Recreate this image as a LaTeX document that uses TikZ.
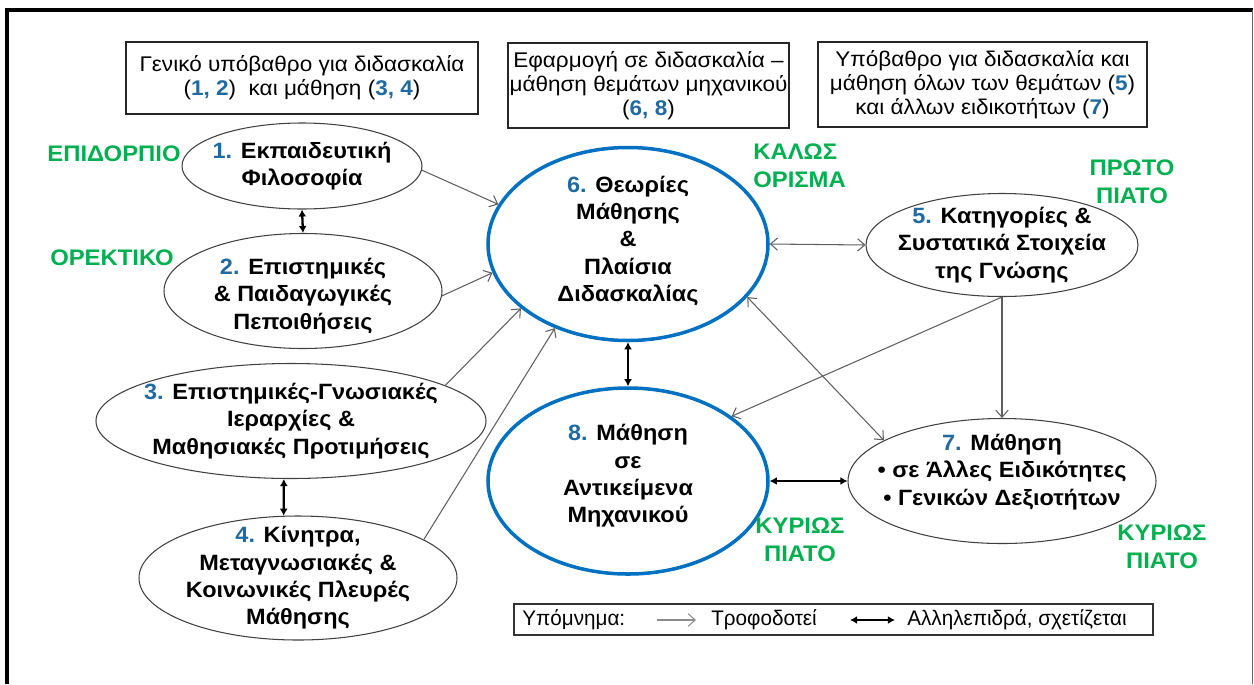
\documentclass[tikz,border=0pt]{standalone}
\usepackage{fontspec}
\setmainfont[FakeStretch=1.06]{Liberation Sans}
\newfontfamily\narrowsans[FakeStretch=0.98]{Liberation Sans}
\usetikzlibrary{shapes.geometric,arrows.meta}
\definecolor{numblue}{RGB}{31,106,160}
\definecolor{ringblue}{RGB}{0,112,192}
\definecolor{dishgreen}{RGB}{0,176,80}
\definecolor{feedgray}{RGB}{95,95,95}
\newcommand{\pix}{0.02cm} % one pixel of the reference
\newcommand{\nr}[1]{\textcolor{numblue}{#1}} % blue numbers
\tikzset{
	idea/.style={ellipse, draw=black!75, line width=0.6pt, inner sep=0pt},
	core/.style={ellipse, draw=ringblue, line width=2pt, inner sep=0pt},
	idealabel/.style={align=center, font=\bfseries\fontsize{12.6}{15.6}\selectfont},
	note/.style={rectangle, draw=black!85, line width=0.9pt, inner sep=0pt, align=center, font=\fontsize{12.1}{13.6}\selectfont},
	dish/.style={text=dishgreen, inner sep=0pt, align=center, font=\bfseries\fontsize{12.8}{15.9}\selectfont},
	feeds/.style={draw=feedgray, line width=0.6pt, -{Straight Barb[length=4pt,width=7pt]}},
	mutual/.style={draw=feedgray, line width=0.6pt, {Straight Barb[length=4pt,width=7pt]}-{Straight Barb[length=4pt,width=7pt]}},
	links/.style={draw=black, line width=1.3pt, {Latex[length=4pt,width=4.5pt]}-{Latex[length=4pt,width=4.5pt]}},
	keybox/.style={rectangle, draw=black!80, line width=0.7pt, inner sep=0pt},
	keytext/.style={inner sep=0pt, anchor=west, font=\narrowsans\fontsize{12}{14}\selectfont},
}
\begin{document}
\begin{tikzpicture}[x=0.02cm,y=-0.02cm]
	\useasboundingbox (0,0) rectangle (1254,684); % page
	\draw [line width=2.3pt] (7,684) -- (7,10) -- (1253,10); % frame left and top
	\draw [black!60,line width=0.7pt] (1252.5,10) -- (1252.5,684); % frame right
	% top boxes
	\node [note, minimum width=352*\pix, minimum height=72*\pix] (boxA) at (302,78) {Γενικό υπόβαθρο για διδασκαλία\\(\nr{\textbf{1, 2}})\ \ και μάθηση (\nr{\textbf{3, 4}})};
	\node [note, minimum width=281*\pix, minimum height=85*\pix] (boxB) at (648.5,85.5) {Εφαρμογή σε διδασκαλία –\\μάθηση θεμάτων μηχανικού\\(\nr{\textbf{6, 8}})};
	\node [note, minimum width=329*\pix, minimum height=85*\pix] (boxC) at (982.5,84.5) {Υπόβαθρο για διδασκαλία και\\μάθηση όλων των θεμάτων (\nr{\textbf{5}})\\και άλλων ειδικοτήτων (\nr{\textbf{7}})};
	% ellipses
	\node [idea, minimum width=240*\pix, minimum height=86*\pix, label={[idealabel]center:{\nr{1.} Εκπαιδευτική\\Φιλοσοφία}}] (e1) at (302,166) {};
	\node [idea, minimum width=278*\pix, minimum height=115*\pix, label={[idealabel,yshift=-5*\pix]center:{\nr{2.} Επιστημικές\\\& Παιδαγωγικές\\Πεποιθήσεις}}] (e2) at (303,291) {};
	\node [idea, minimum width=390*\pix, minimum height=115*\pix, label={[idealabel]center:{\nr{3.} Επιστημικές-Γνωσιακές\\Ιεραρχίες \&\\Μαθησιακές Προτιμήσεις}}] (e3) at (291,421) {};
	\node [idea, minimum width=318*\pix, minimum height=124*\pix, label={[idealabel]center:{\nr{4.} Κίνητρα,\\Μεταγνωσιακές \&\\Κοινωνικές Πλευρές\\Μάθησης}}] (e4) at (298,578) {};
	\node [idea, minimum width=272*\pix, minimum height=103*\pix, label={[idealabel]center:{\nr{5.} Κατηγορίες \&\\Συστατικά Στοιχεία\\της Γνώσης}}] (e5) at (1002,245) {};
	\node [core, minimum width=280*\pix, minimum height=193*\pix, label={[idealabel,yshift=3*\pix]center:{\nr{6.} Θεωρίες\\Μάθησης\\\&\\Πλαίσια\\Διδασκαλίας}}] (e6) at (628,244) {};
	\node [idea, minimum width=308*\pix, minimum height=125*\pix, label={[idealabel,yshift=9*\pix]center:{\nr{7.} Μάθηση\\• σε Άλλες Ειδικότητες\\• Γενικών Δεξιοτήτων}}] (e7) at (1002,481) {};
	\node [core, minimum width=280*\pix, minimum height=186*\pix, label={[idealabel,yshift=5*\pix]center:{\nr{8.} Μάθηση\\σε\\Αντικείμενα\\Μηχανικού}}] (e8) at (628,481) {};
	% green labels
	\node [dish] (dessert) at (114,154) {ΕΠΙΔΟΡΠΙΟ};
	\node [dish] (starter) at (112,258) {ΟΡΕΚΤΙΚΟ};
	\node [dish, anchor=west, align=left] (welcome) at (753,166) {ΚΑΛΩΣ\\ΟΡΙΣΜΑ};
	\node [dish] (firstdish) at (1132,182) {ΠΡΩΤΟ\\ΠΙΑΤΟ};
	\node [dish] (maindishA) at (800,540) {ΚΥΡΙΩΣ\\ΠΙΑΤΟ};
	\node [dish] (maindishB) at (1162,547) {ΚΥΡΙΩΣ\\ΠΙΑΤΟ};
	% connectors
	\draw [feeds] (e1.-2) -- (e6.163); % 1 feeds 6
	\draw [feeds] (e2.-2) -- (e6.192); % 2 feeds 6
	\draw [feeds] (e3.13) -- (e6.211); % 3 feeds 6
	\draw [feeds] (e4.17) -- (e6.229); % 4 feeds 6
	\draw [feeds] (e5.south) -- (e8.32); % 5 feeds 8
	\draw [feeds] (e5.south) -- (e7.north); % 5 feeds 7
	\draw [mutual] (e6.east) -- (e5.west); % 6 and 5
	\draw [mutual] (e6.-24) -- (e7.161); % 6 and 7
	\draw [links] (e1.south) -- (e2.north); % 1 and 2
	\draw [links] (e3.263) -- (e4.103); % 3 and 4
	\draw [links] (e6.south) -- (e8.north); % 6 and 8
	\draw [links] (e8.east) -- (e7.west); % 8 and 7
	% legend
	\node [keybox, minimum width=639*\pix, minimum height=31*\pix] (legend) at (833.5,619.5) {};
	\node [keytext] (keytitle) at (522,620) {Υπόμνημα:};
	\coordinate (feedA) at (657,620); % sample start
	\coordinate (feedB) at (696,620); % sample end
	\node [keytext] (keyfeed) at (711,620) {Τροφοδοτεί};
	\coordinate (linkA) at (850,620); % sample start
	\coordinate (linkB) at (895,620); % sample end
	\node [keytext] (keylink) at (907,620) {Αλληλεπιδρά, σχετίζεται};
	\draw [feeds,draw=black!45] (feedA) -- (feedB); % sample feed
	\draw [links] (linkA) -- (linkB); % sample link
\end{tikzpicture}
\end{document}
